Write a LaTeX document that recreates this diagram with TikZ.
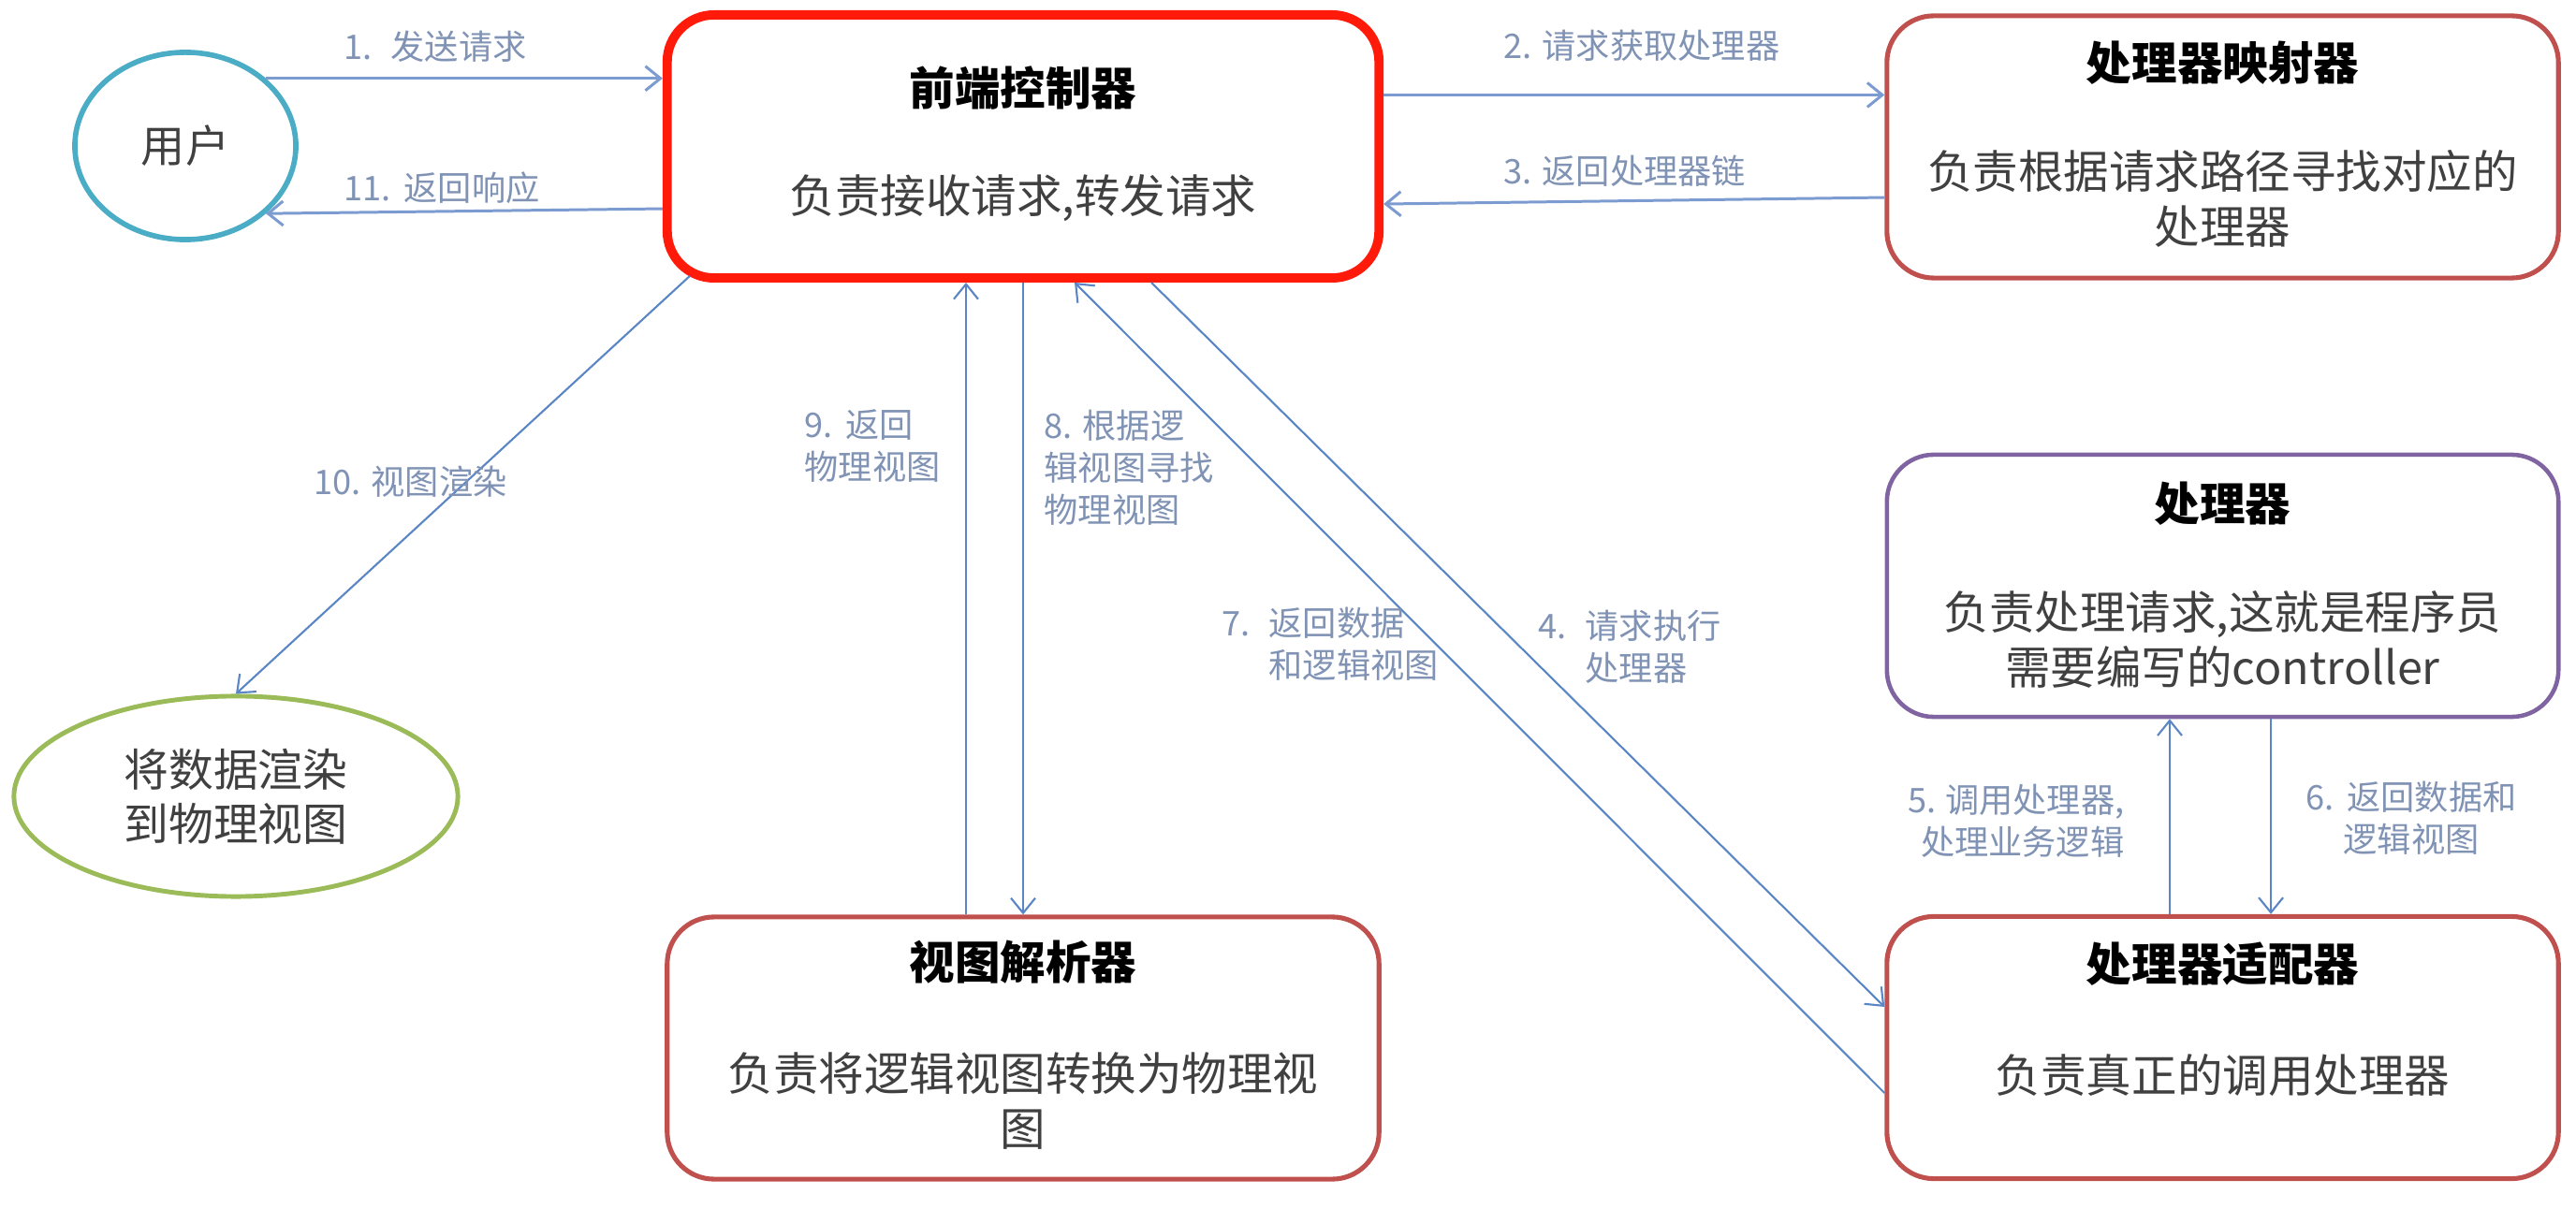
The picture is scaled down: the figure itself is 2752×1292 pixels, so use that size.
\documentclass[tikz,border=0pt]{standalone}
\usepackage{fontspec}
\setmainfont{Noto Sans CJK SC}
\usetikzlibrary{arrows.meta,shapes.geometric}
\definecolor{arrowc}{HTML}{5B86C5}
\definecolor{arrowl}{HTML}{7C9BD1}
\definecolor{lblc}{HTML}{8093B5}
\definecolor{fcred}{HTML}{FF1A0A}
\definecolor{boxred}{HTML}{C0504D}
\definecolor{boxpurple}{HTML}{8064A2}
\definecolor{usrblue}{HTML}{4BACC6}
\definecolor{grn}{HTML}{9BBB59}
\definecolor{bodyc}{HTML}{404040}
\newcommand\numbox[2]{\makebox[#1][l]{#2}}
\tikzset{
 box/.style={draw=boxred, line width=1.45pt, rounded corners=0.5cm, minimum width=7.17cm, minimum height=2.8cm, inner sep=0pt},
 ttl/.style={font=\fontsize{13.8}{16.8}\selectfont\bfseries, text=black, inner sep=0pt},
 bdy/.style={font=\fontsize{13.8}{16.8}\selectfont, text=bodyc, inner sep=0pt, align=center},
 lbl/.style={font=\fontsize{10.3}{12.8}\selectfont, text=lblc, inner sep=0pt},
 arr/.style={draw=arrowc, line width=0.6pt, -{Straight Barb[length=1.6mm,width=2.6mm]}},
 harr/.style={arr, draw=arrowl, line width=0.85pt},
}
\begin{document}
\begin{tikzpicture}[x=0.01cm,y=-0.01cm]
\useasboundingbox (0,0) rectangle (2752,1292);
\fill[white] (0,0) rectangle (2752,1292);

% boxes
\node[box, draw=fcred, line width=2.8pt, minimum width=7.6cm, minimum height=2.81cm] (fc) at (1093,156.5) {};
\node[ttl] (fct) at (1093,94) {前端控制器};
\node[bdy] (fcb) at (1093,212) {负责接收请求,转发请求};

\node[box] (hm) at (2374.5,157) {};
\node[ttl] (hmt) at (2374.5,67) {处理器映射器};
\node[bdy] (hmb) at (2374.5,212) {负责根据请求路径寻找对应的\\处理器};

\node[box, draw=boxpurple, line width=1.3pt] (h) at (2374.5,626) {};
\node[ttl] (ht) at (2374.5,538) {处理器};
\node[bdy] (hb) at (2374.5,683.5) {负责处理请求,这就是程序员\\需要编写的controller};

\node[box] (ha) at (2374.5,1119.5) {};
\node[ttl] (hat) at (2374.5,1030) {处理器适配器};
\node[bdy] (hab) at (2374.5,1149) {负责真正的调用处理器};

\node[box, minimum width=7.6cm] (vr) at (1093,1120) {};
\node[ttl] (vrt) at (1093,1028) {视图解析器};
\node[bdy] (vrb) at (1093,1176.5) {负责将逻辑视图转换为物理视\\图};

\node[draw=usrblue, ellipse, line width=1.6pt, minimum width=2.36cm, minimum height=2.0cm, inner sep=0pt, text=bodyc, font=\fontsize{13.4}{16.8}\selectfont] (user) at (198,156) {用户};
\node[draw=grn, ellipse, line width=1.4pt, minimum width=4.74cm, minimum height=2.14cm, inner sep=0pt, align=center, text=bodyc, font=\fontsize{13.6}{16.6}\selectfont] (render) at (252,851) {将数据渲染\\到物理视图};

% connectors
\draw[harr] (user.40) -- (user.40 -| fc.west);
\draw[harr] ([yshift=-0.665cm]fc.west) -- (user.-40);
\draw[harr] ([yshift=0.55cm]fc.east) -- ([yshift=0.55cm]fc.east -| hm.west);
\draw[harr] ([yshift=-0.54cm]hm.west) -- ([yshift=-0.615cm]fc.east);
\draw[arr] ([xshift=0.29cm,yshift=0.07cm]fc.south west) -- (render.north);
\draw[arr] ([xshift=-0.61cm]vr.north) -- ([xshift=-0.61cm]fc.south);
\draw[arr] (fc.south) -- (vr.north);
\draw[arr] ([yshift=-0.485cm]ha.west) -- ([xshift=0.55cm]fc.south);
\draw[arr] ([xshift=1.37cm]fc.south) -- ([yshift=0.435cm]ha.west);
\draw[arr] ([xshift=-0.565cm]ha.north) -- ([xshift=-0.565cm]h.south);
\draw[arr] ([xshift=0.515cm]h.south) -- ([xshift=0.515cm]ha.north);

% labels
\node[lbl, anchor=west] (l1) at (367,50) {\numbox{0.5cm}{1.}发送请求};
\node[lbl, anchor=west] (l11) at (367,201) {\numbox{0.64cm}{11.}返回响应};
\node[lbl, anchor=west] (l2) at (1606,49) {\numbox{0.41cm}{2.}请求获取处理器};
\node[lbl, anchor=west] (l3) at (1606,183) {\numbox{0.41cm}{3.}返回处理器链};
\node[lbl, anchor=west] (l10) at (335,515) {\numbox{0.61cm}{10.}视图渲染};
\node[lbl, anchor=west, align=left] (l9) at (859,476.5) {\numbox{0.44cm}{9.}返回\\物理视图};
\node[lbl, anchor=west, align=left] (l8) at (1115,499.5) {\numbox{0.41cm}{8.}根据逻\\辑视图寻找\\物理视图};
\node[lbl, anchor=west, align=left] (l7) at (1305,688) {\numbox{0.5cm}{7.}返回数据\\\hspace*{0.5cm}和逻辑视图};
\node[lbl, anchor=west, align=left] (l4) at (1643,691.5) {\numbox{0.5cm}{4.}请求执行\\\hspace*{0.5cm}处理器};
\node[lbl, anchor=east, align=right] (l5) at (2270,877.5) {\numbox{0.4cm}{5.}调用处理器,\\处理业务逻辑};
\node[lbl, align=center] (l6) at (2576,874.5) {\numbox{0.44cm}{6.}返回数据和\\逻辑视图};
\end{tikzpicture}
\end{document}
